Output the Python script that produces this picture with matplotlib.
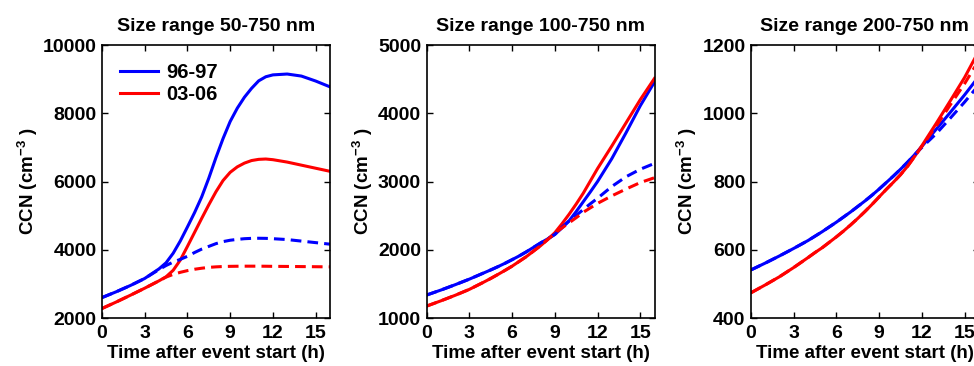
import matplotlib
matplotlib.use('Agg')
import matplotlib.pyplot as plt

plt.rcParams['font.family'] = ['Liberation Sans', 'DejaVu Sans']
plt.rcParams['mathtext.fontset'] = 'custom'
plt.rcParams['mathtext.bf'] = 'Liberation Sans:bold'
plt.rcParams['mathtext.rm'] = 'Liberation Sans:bold'

# waktu (jam) setelah event mulai
t = [0, 1, 2, 3, 4, 4.5, 5, 5.5, 6, 6.5, 7, 7.5, 8, 8.5, 9, 9.5, 10, 10.5, 11, 11.5, 12, 13, 14, 15, 16]

# 50-750 nm
p1_biru = [2600, 2770, 2955, 3160, 3440, 3620, 3900, 4260, 4670, 5090, 5550, 6100, 6700, 7260, 7760,
           8150, 8470, 8730, 8950, 9070, 9125, 9150, 9090, 8945, 8775]
p1_merah = [2280, 2470, 2670, 2875, 3090, 3210, 3400, 3700, 4100, 4510, 4920, 5320, 5700, 6030, 6270,
            6430, 6540, 6615, 6650, 6660, 6640, 6570, 6480, 6390, 6300]
p1_biru_d = [2600, 2770, 2955, 3160, 3420, 3540, 3640, 3720, 3810, 3920, 4020, 4100, 4180, 4240, 4280,
             4305, 4325, 4335, 4338, 4335, 4325, 4300, 4255, 4210, 4165]
p1_merah_d = [2280, 2470, 2670, 2875, 3090, 3200, 3280, 3340, 3390, 3430, 3460, 3485, 3500, 3510, 3515,
              3518, 3520, 3520, 3520, 3518, 3515, 3512, 3508, 3504, 3500]

# 100-750 nm
p2_biru = [1337, 1410, 1488, 1570, 1660, 1705, 1752, 1802, 1855, 1910, 1970, 2035, 2100, 2160, 2225,
           2320, 2425, 2560, 2705, 2850, 3000, 3335, 3715, 4110, 4460]
p2_merah = [1175, 1252, 1333, 1420, 1525, 1580, 1638, 1698, 1760, 1830, 1900, 1980, 2060, 2150, 2250,
            2380, 2520, 2670, 2830, 3010, 3190, 3520, 3860, 4200, 4512]
p2_biru_d = [1337, 1410, 1488, 1570, 1660, 1705, 1752, 1802, 1855, 1910, 1970, 2035, 2100, 2160, 2225,
             2330, 2420, 2505, 2590, 2675, 2755, 2927, 3070, 3180, 3266]
p2_merah_d = [1175, 1252, 1333, 1420, 1525, 1580, 1638, 1698, 1760, 1830, 1900, 1980, 2060, 2150, 2240,
              2320, 2395, 2470, 2550, 2615, 2680, 2790, 2890, 2985, 3056]

# 200-750 nm
p3_biru = [541, 561, 582, 604, 627, 640, 653, 667, 681, 696, 711, 727, 743, 760, 778,
           797, 816, 836, 857, 879, 903, 953, 1003, 1054, 1108]
p3_merah = [474, 497, 521, 548, 577, 592, 606, 622, 638, 655, 673, 692, 712, 733, 755,
            777, 798, 820, 845, 874, 905, 970, 1037, 1105, 1183]
p3_biru_d = [541, 561, 582, 604, 627, 640, 653, 667, 681, 696, 711, 727, 743, 760, 778,
             797, 816, 836, 857, 879, 900, 940, 986, 1033, 1083]
p3_merah_d = [474, 497, 521, 548, 577, 592, 606, 622, 638, 655, 673, 692, 712, 733, 755,
              777, 798, 820, 845, 874, 903, 962, 1025, 1087, 1155]

panel = [
    ('Size range 50-750 nm', p1_biru, p1_merah, p1_biru_d, p1_merah_d, (2000, 10000), [2000, 4000, 6000, 8000, 10000]),
    ('Size range 100-750 nm', p2_biru, p2_merah, p2_biru_d, p2_merah_d, (1000, 5000), [1000, 2000, 3000, 4000, 5000]),
    ('Size range 200-750 nm', p3_biru, p3_merah, p3_biru_d, p3_merah_d, (400, 1200), [400, 600, 800, 1000, 1200]),
]
kiri = [0.1047, 0.438, 0.771]

fig = plt.figure(figsize=(9.74, 3.66), dpi=100)

for i, (judul, b, m, bd, md, ylim, yticks) in enumerate(panel):
    ax = fig.add_axes([kiri[i], 0.131, 0.234, 0.746])
    ax.plot(t, b, color='#0000ff', lw=2.2, label='96-97')
    ax.plot(t, m, color='#ff0000', lw=2.2, label='03-06')
    ax.plot(t, bd, color='#0000ff', lw=2.2, ls=(0, (3.5, 2)))
    ax.plot(t, md, color='#ff0000', lw=2.2, ls=(0, (3.5, 2)))
    ax.set_xlim(0, 16)
    ax.set_ylim(*ylim)
    ax.set_xticks([0, 3, 6, 9, 12, 15])
    ax.set_yticks(yticks)
    ax.tick_params(direction='in', top=True, right=True, length=4, width=1, labelsize=14)
    ax.tick_params(axis='x', pad=5)
    ax.tick_params(axis='y', pad=4)
    for lbl in ax.get_xticklabels() + ax.get_yticklabels():
        lbl.set_fontweight('bold')
    for s in ax.spines.values():
        s.set_linewidth(1.2)
    ax.set_title(judul, fontsize=14, fontweight='bold', pad=10)
    ax.set_xlabel('Time after event start (h)', fontsize=13.5, fontweight='bold', labelpad=2)
    ax.set_ylabel('CCN (cm$^{\\mathbf{-3}}$ )', fontsize=13.5, fontweight='bold', labelpad=2)
    if i == 0:
        ax.legend(loc='upper left', frameon=False, prop={'size': 14.5, 'weight': 'bold'},
                  handlelength=1.9, handletextpad=0.4, borderaxespad=0.5, labelspacing=0.12)

fig.savefig('out.png', dpi=100)
